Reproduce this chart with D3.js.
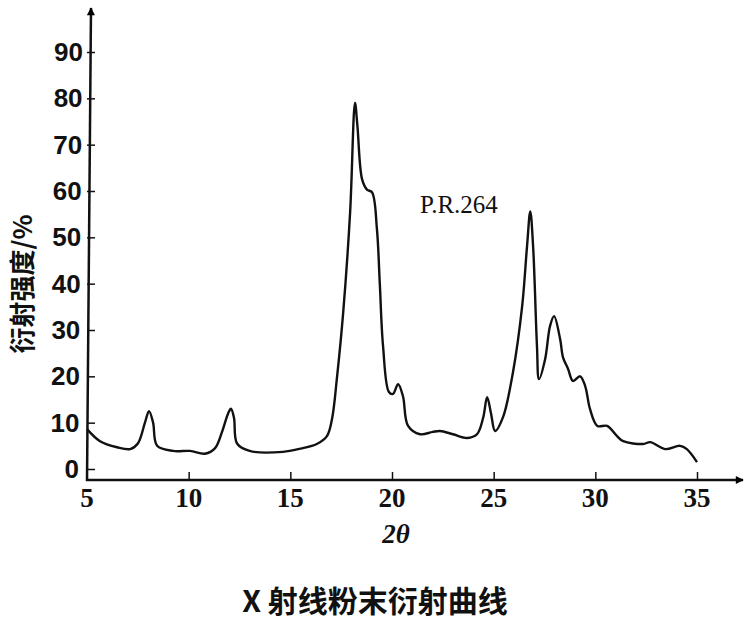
<!DOCTYPE html>
<html>
<head>
<meta charset="utf-8">
<script src="https://cdn.jsdelivr.net/npm/d3@7"></script>
<style>
  html, body { margin: 0; padding: 0; background: #fff; }
  svg { display: block; }
</style>
</head>
<body>
<svg id="chart" width="752" height="623"></svg>
<script>
// ---- data ----
const xTicks = [5, 10, 15, 20, 25, 30, 35];
const yTicks = [0, 10, 20, 30, 40, 50, 60, 70, 80, 90];
const twoTheta = [
  5.0, 5.64, 6.48, 7.12, 7.5, 7.85, 8.05, 8.25, 8.45, 9.23, 10.07, 10.8, 11.3, 11.64, 11.94, 12.08,
  12.23, 12.38, 13.0, 14.64, 15.5, 16.3, 16.8, 17.05, 17.3, 17.6, 17.94, 18.18, 18.3, 18.53,
  18.77, 19.02, 19.26, 19.4, 19.56, 19.85, 20.05, 20.3, 20.54, 20.79, 21.38, 22.0, 22.36, 23.0,
  23.7, 24.18, 24.48, 24.68, 24.87, 25.07, 25.46, 25.95, 26.4, 26.64, 26.8, 26.94, 27.13, 27.23,
  27.53, 27.77, 27.97, 28.27, 28.41, 28.66, 28.9, 29.25, 29.5, 29.74, 30.1, 30.58, 31.07, 31.37,
  32.35, 32.7, 33.43, 34.17, 34.5, 35.0
];
const intensity = [
  8.6, 6.0, 4.7, 4.3, 5.5, 10, 12.5, 10, 5, 3.9, 3.9, 3.3, 4.5, 8, 12, 13,
  11, 5.5, 3.9, 3.7, 4.4, 5.4, 7.1, 10.8, 20, 33.8, 55.4, 79, 74, 62.5,
  60.3, 59.7, 51.7, 40, 26.5, 16.6, 16.2, 18.3, 15.7, 9.3, 7.5, 8.0, 8.2, 7.5,
  6.7, 7.5, 11, 15.5, 12, 8.2, 11.2, 20.9, 35.1, 48, 55.6, 48, 26.5, 19.4,
  23.7, 30.8, 33, 28, 24.1, 21.6, 19, 20, 17.9, 12.9, 9.3, 9.3, 7.1, 6.0,
  5.4, 5.8, 4.3, 5.0, 4.3, 1.5
];
const sampleLabel = "P.R.264";
const xLabel = "2θ";
const yLabel = "衍射强度/%";
const title = "X 射线粉末衍射曲线";

// ---- drawing ----
const svg = d3.select("#chart");
const x = d3.scaleLinear().domain([5, 35]).range([87, 697]);
const y = d3.scaleLinear().domain([0, 90]).range([469, 52]);
const axisY = 480, axisX = 87;

const data = twoTheta.map((t, i) => [t, intensity[i]]);

// arrow marker
svg.append("defs").append("marker")
  .attr("id", "arrow").attr("viewBox", "0 0 10 10")
  .attr("refX", 9).attr("refY", 5)
  .attr("markerWidth", 12).attr("markerHeight", 8)
  .attr("markerUnits", "userSpaceOnUse")
  .attr("orient", "auto")
  .append("path").attr("d", "M0,0 L10,5 L0,10 Z").attr("fill", "#000");

// x axis
const gx = svg.append("g").attr("transform", `translate(0,${axisY})`);
gx.call(d3.axisTop(x).tickValues(xTicks).tickSize(8).tickFormat(""));
gx.select(".domain").remove();
gx.selectAll(".tick line").attr("stroke", "#111").attr("stroke-width", 1.5);
gx.selectAll(".tick").filter(d => d === 5).select("line").remove();
svg.append("line")
  .attr("x1", axisX - 1).attr("y1", axisY).attr("x2", 743).attr("y2", axisY)
  .attr("stroke", "#111").attr("stroke-width", 2.5).attr("marker-end", "url(#arrow)");
svg.append("g").selectAll("text").data(xTicks).join("text")
  .attr("x", d => x(d)).attr("y", 507)
  .attr("text-anchor", "middle")
  .attr("font-family", "Liberation Serif, serif").attr("font-weight", "bold")
  .attr("font-size", 27).attr("fill", "#111")
  .text(d => d);

// y axis
const gy = svg.append("g").attr("transform", `translate(${axisX},0)`);
gy.call(d3.axisRight(y).tickValues(yTicks).tickSize(8).tickFormat(""));
gy.select(".domain").remove();
gy.selectAll(".tick line").attr("stroke", "#111").attr("stroke-width", 1.5);
svg.append("line")
  .attr("x1", axisX).attr("y1", axisY + 1).attr("x2", axisX + 4).attr("y2", 8)
  .attr("stroke", "#111").attr("stroke-width", 2.5).attr("marker-end", "url(#arrow)");
svg.append("g").selectAll("text").data(yTicks).join("text")
  .attr("x", d => 79 + (d / 90) * 4).attr("y", d => y(d) + 9)
  .attr("text-anchor", "end")
  .attr("font-family", "Liberation Sans, Arial, sans-serif").attr("font-weight", "bold")
  .attr("font-size", 26).attr("fill", "#111")
  .text(d => d);

// curve
const line = d3.line().x(d => x(d[0])).y(d => y(d[1])).curve(d3.curveCatmullRom.alpha(0.5));
svg.append("path").datum(data)
  .attr("d", line).attr("fill", "none")
  .attr("stroke", "#111").attr("stroke-width", 2.4).attr("stroke-linejoin", "round");

// annotations
svg.append("text").attr("x", 420).attr("y", 213)
  .attr("font-family", "Liberation Serif, serif").attr("font-size", 25).attr("fill", "#111")
  .text(sampleLabel);

svg.append("text").attr("x", 396).attr("y", 543).attr("text-anchor", "middle")
  .attr("font-family", "Liberation Serif, serif").attr("font-weight", "bold").attr("font-style", "italic")
  .attr("font-size", 27).attr("fill", "#111")
  .text(xLabel);

svg.append("text")
  .attr("transform", "translate(32,284) rotate(-90)")
  .attr("text-anchor", "middle")
  .attr("font-family", "Noto Sans CJK SC, sans-serif").attr("font-weight", "bold")
  .attr("font-size", 26).attr("fill", "#111")
  .text(yLabel);

svg.append("text").attr("x", 375).attr("y", 612).attr("text-anchor", "middle")
  .attr("font-family", "Noto Sans CJK SC, sans-serif").attr("font-weight", "bold")
  .attr("font-size", 30).attr("fill", "#111")
  .text(title);
</script>
</body>
</html>
